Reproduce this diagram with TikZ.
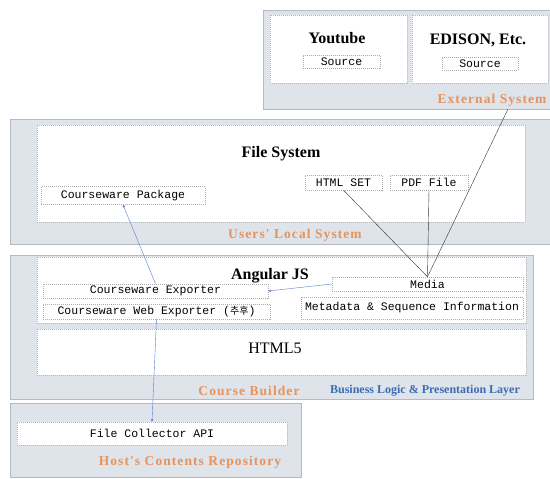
\documentclass[tikz,border=0pt]{standalone}
\usepackage{fontspec}
\setmainfont{Liberation Serif}
\setmonofont{Liberation Mono}
\newfontfamily\krfont{Noto Sans CJK KR}
\newfontfamily\tagfont[LetterSpace=8]{Liberation Serif}
\usepackage{tikz}
\usetikzlibrary{arrows.meta}
\definecolor{panelfill}{HTML}{DFE3EA}
\definecolor{paneldraw}{HTML}{B4BAC4}
\definecolor{tagorange}{HTML}{E8935C}
\definecolor{layerblue}{HTML}{3B6CB4}
\definecolor{flowblue}{HTML}{5A7FD0}
\tikzstyle{panel}=[rectangle, sharp corners, fill=panelfill, draw=paneldraw,
  line width=0.8pt, inner sep=0pt]
\tikzstyle{layer}=[rectangle, sharp corners, fill=white, draw=gray!55,
  dash pattern=on 1pt off 1pt, inner sep=0pt]
\tikzstyle{item}=[rectangle, sharp corners, fill=white, draw=gray!65,
  dash pattern=on 1pt off 1pt, inner sep=0pt,
  font=\ttfamily\fontsize{11.5}{13}\selectfont]
\tikzstyle{title}=[font=\bfseries\fontsize{16}{18}\selectfont]
\tikzstyle{tag}=[text=tagorange, font=\tagfont\bfseries\fontsize{13.5}{16}\selectfont]
\tikzstyle{arrmedia}=[-, thin, draw=black!80]
\tikzstyle{arrflow}=[-{Stealth[length=3pt,width=2.5pt]}, thin, draw=flowblue]

\begin{document}
\begin{tikzpicture}[x=1pt, y=-1pt]
\useasboundingbox (0,0) rectangle (550,479);

% panels
\node[panel, minimum width=287, minimum height=99] at (406.5,59.5) (extsys) {};
\node[panel, minimum width=540, minimum height=125] at (280,181.5) (localsys) {};
\node[panel, minimum width=523, minimum height=144] at (271.5,327) (builder) {};
\node[panel, minimum width=291, minimum height=74] at (155.5,440) (hostrepo) {};

% external system
\node[layer, minimum width=137, minimum height=68] at (338.5,49) (youtube) {};
\node[layer, minimum width=136, minimum height=68] at (480,49) (edison) {};
\node[title] at (337,38) (youtubetitle) {Youtube};
\node[title] at (478,40) (edisontitle) {EDISON, Etc.};
\node[item, minimum width=77, minimum height=13] at (341.5,61.5) (ytsource) {Source};
\node[item, minimum width=76, minimum height=13] at (480,63.5) (edsource) {Source};
\node[tag] at (492,100) (exttag) {External System};

% users' local system
\node[layer, minimum width=488, minimum height=97] at (281,173.5) (filesys) {};
\node[title] at (281,154) (filesystitle) {File System};
\node[item, minimum width=164, minimum height=18] at (123,195.5) (package) {Courseware Package};
\node[item, minimum width=77, minimum height=15] at (343.5,182.5) (htmlset) {HTML SET};
\node[item, minimum width=78, minimum height=15] at (429,182.5) (pdffile) {PDF File};
\node[tag] at (295,235) (localtag) {Users' Local System};

% course builder
\node[layer, minimum width=489, minimum height=66] at (281.5,290) (angular) {};
\node[title] at (270,276) (angulartitle) {Angular JS};
\node[item, minimum width=225, minimum height=14] at (155.5,291) (exporter) {Courseware Exporter};
\node[item, minimum width=227, minimum height=15] at (156.5,311.5) (webexporter)
  {Courseware Web Exporter ({\krfont\fontsize{10}{11}\selectfont 추후})};
\node[item, minimum width=191, minimum height=14] at (427.5,284) (media) {Media};
\node[item, minimum width=222, minimum height=22] at (412,308) (metadata)
  {Metadata \& Sequence Information};
\node[layer, minimum width=489, minimum height=46] at (281.5,352) (html) {};
\node[font=\fontsize{16}{18}\selectfont] at (275,348) (htmltitle) {HTML5};
\node[tag] at (249,391) (buildertag) {Course Builder};
\node[text=layerblue, font=\bfseries\fontsize{12}{14}\selectfont] at (425,391) (layertag)
  {Business Logic \& Presentation Layer};

% host's contents repository
\node[item, draw=gray!55, minimum width=270, minimum height=23] at (152,433.5) (collector)
  {File Collector API};
\node[tag] at (190,462) (hosttag) {Host's Contents Repository};

% connectors
\coordinate (extfoot) at (508,109);
\draw[arrmedia] (htmlset.south) -- (media.north);
\draw[arrmedia] (pdffile.south) -- (media.north);
\draw[arrmedia] (extfoot) -- (media.north);
\draw[arrflow] (media.west) -- (exporter.east);
\draw[arrflow] (exporter.north) -- (package.south);
\draw[arrflow] (webexporter.south) -- (collector.north);

\end{tikzpicture}
\end{document}
